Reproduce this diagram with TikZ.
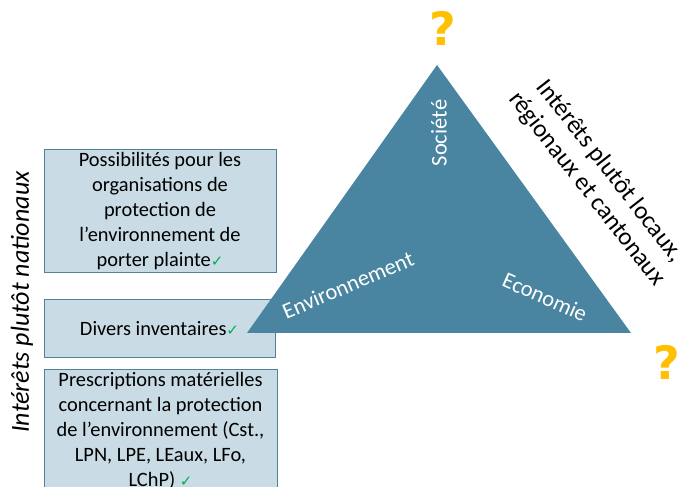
\documentclass[tikz,border=0pt]{standalone}
\usepackage{fontspec}
\setmainfont{Carlito}
\newfontfamily\symfont{DejaVu Sans}
\usepackage{tikz}
\usepackage{xcolor}
\usetikzlibrary{positioning}
\definecolor{boxfill}{RGB}{201,219,228}
\definecolor{boxline}{RGB}{84,128,152}
\definecolor{trifill}{RGB}{73,133,160}
\definecolor{qmark}{RGB}{255,192,0}
\definecolor{okgreen}{RGB}{0,176,80}
\newcommand{\ok}{{\symfont\color{okgreen}\fontsize{15}{15}\selectfont\char"2713}}
\tikzstyle{infobox} = [draw=boxline, fill=boxfill, line width=1pt, align=center, inner sep=0pt, font=\fontsize{20.4}{25}\selectfont]
\tikzstyle{trilabel} = [text=white, inner sep=0pt, font=\fontsize{22.5}{24}\selectfont]
\tikzstyle{question} = [text=qmark, inner sep=0pt, font=\fontsize{46}{46}\selectfont\symfont\bfseries]

\begin{document}
\begin{tikzpicture}[x=1pt,y=1pt]
    \useasboundingbox (0,0) rectangle (691,487);
    % boxes on the left
    \node [infobox, minimum width=232, minimum height=123](B1) at (160,275.5) {Possibilités pour les\\organisations de\\protection de\\l’environnement de\\porter plainte\ok};
    \node [infobox, minimum width=231, minimum height=58](B2) at (159.5,158) {Divers inventaires\ok};
    \node [infobox, minimum width=233, minimum height=122](B3) at (160.5,56) {Prescriptions matérielles\\concernant la protection\\de l’environnement (Cst.,\\LPN, LPE, LEaux, LFo,\\LChP) \ok};
    % triangle
    \coordinate (top) at (437,422);
    \coordinate (left) at (247,154);
    \coordinate (right) at (631,154);
    \fill [trifill] (top) -- (left) -- (right) -- cycle;
    \draw [boxline, line width=1pt] (B2.north east) -- (B2.south east);
    \node [trilabel, rotate=90](soc) at (439,354) {Société};
    \node [trilabel, rotate=23](env) at (348,202) {Environnement};
    \node [trilabel, rotate=-24](eco) at (545,190) {Economie};
    % side labels
    \node [rotate=-52, align=center, inner sep=0pt, font=\fontsize{25}{29}\selectfont](loc) at (598,307) {Intérêts plutôt locaux,\\régionaux et cantonaux};
    \node [rotate=90, inner sep=0pt, font=\fontsize{26}{26}\selectfont\itshape](nat) at (22,185) {Intérêts plutôt nationaux};
    \node [question](q1) at (443,459) {?};
    \node [question](q2) at (667,125) {?};
\end{tikzpicture}
\end{document}
